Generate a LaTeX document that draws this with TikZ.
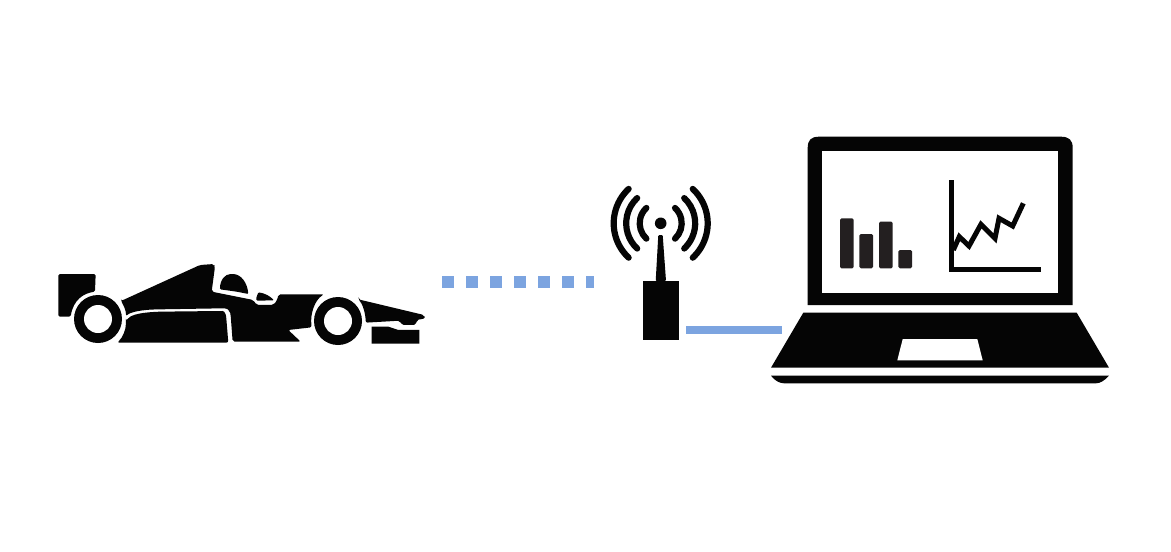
\documentclass[tikz,border=0pt]{standalone}
\definecolor{linkblue}{HTML}{7CA4E0}
\definecolor{barblack}{HTML}{231F20}
\definecolor{ink}{HTML}{050505}
\tikzset{
  solidshape/.style={fill=ink,draw=none},
  hole/.style={fill=white,draw=none},
  wave/.style={draw=ink,line width=6.2pt,line cap=round},
  link/.style={draw=linkblue,line width=8pt},
  wireless/.style={draw=linkblue,line width=12pt,dash pattern=on 12pt off 12pt},
  databar/.style={fill=barblack,draw=none,rounded corners=1.5pt},
}
\begin{document}
\begin{tikzpicture}[x=1pt,y=-1pt]
\useasboundingbox (0,0) rectangle (1171,552);
\fill[white] (0,0) rectangle (1171,552);
% links
\coordinate (carlink) at (442,282);
\coordinate (antlink) at (594,282);
\coordinate (boxlink) at (686,330);
\coordinate (laplink) at (782,330);
\draw[wireless] (carlink) -- (antlink);
\draw[link] (boxlink) -- (laplink);
% car
\begin{scope}[shift={(40,250)},x=0.3333pt,y=-0.3333pt]
\fill[solidshape,rounded corners=1.5pt] (55,72) -- (167,72) -- (165,125) .. controls (130,130) and (100,150) .. (92,200) -- (55,200) -- cycle;
\fill[solidshape,rounded corners=2pt] (243,153) -- (480,45) -- (522,42) -- (525,50) -- (515,125) -- (640,150) -- (650,165) -- (700,165) -- (712,150) -- (715,133) -- (852,133)
  .. controls (825,150) and (810,190) .. (815,232) -- (745,240) -- (782,275) -- (578,275) -- (572,195) .. controls (569,180) and (562,175) .. (545,175) -- (360,178) .. controls (300,179) and (270,187) .. (258,199) .. controls (258,180) and (250,165) .. (243,153) -- cycle;
\fill[solidshape,rounded corners=2pt] (258,213) .. controls (270,197) and (290,188) .. (360,185) -- (542,183) .. controls (554,183) and (558,195) .. (559,205) -- (565,278) -- (232,278) .. controls (248,262) and (258,240) .. (258,213) -- cycle;
\fill[solidshape,rounded corners=1pt] (540,118) .. controls (540,90) and (555,72) .. (575,72) .. controls (605,72) and (622,100) .. (625,132) -- (590,125) -- cycle;
\fill[solidshape,rounded corners=1pt] (648,146) -- (655,127) .. controls (675,130) and (690,138) .. (702,151) -- (650,152) -- cycle;
\fill[solidshape,rounded corners=2pt] (955,148) -- (1152,195) -- (1156,205) -- (1130,210) -- (1128,225) -- (1085,225) -- (1080,212) -- (977,218) .. controls (977,195) and (970,165) .. (955,148) -- cycle;
\fill[solidshape] (995,230) -- (1045,230) -- (1075,240) -- (1138,240) -- (1138,281) -- (995,281) -- cycle;
\end{scope}
\fill[solidshape] (98,319) circle (24);
\fill[hole] (98,319) circle (14);
\fill[solidshape] (338,321) circle (24);
\fill[hole] (338,321) circle (14);
% antenna
\node[solidshape,minimum width=35.4pt,minimum height=59.3pt,inner sep=0pt,outer sep=0pt] (antennabox) at (661,310.3) {};
\fill[solidshape,rounded corners=1pt] (655.7,281) -- (658.3,235) -- (662.7,235) -- (666,281) -- cycle;
\fill[solidshape] (660.7,223.3) circle (5.8);
\foreach \r in {21,34.5,47}{
  \draw[wave] (660.7,223.3) ++(133:\r) arc[start angle=133,end angle=227,radius=\r];
  \draw[wave] (660.7,223.3) ++(47:\r) arc[start angle=47,end angle=-47,radius=\r];
}
% laptop
\fill[solidshape] (807.7,305) -- (807.7,148) .. controls (807.7,140) and (811,136.7) .. (819,136.7) -- (1061,136.7) .. controls (1069,136.7) and (1072.7,140) .. (1072.7,148) -- (1072.7,305) -- cycle;
\fill[hole] (821.7,151) rectangle (1058.3,293.3);
\fill[databar] (840,218.3) rectangle (853.7,268.3);
\fill[databar] (859.3,234) rectangle (873,268.3);
\fill[databar] (879,221.7) rectangle (892.7,268.3);
\fill[databar] (898.3,250) rectangle (912,268.3);
\draw[draw=ink,line width=4.5pt] (951.3,180) -- (951.3,269.3) -- (1041,269.3);
\draw[draw=ink,line width=5pt,line join=miter] (953.3,250) -- (959.3,236.7) -- (969,246) -- (981,224.3) -- (995,238.3) -- (999,218.3) -- (1012.7,226) -- (1023.3,203.3);
\fill[solidshape] (803.3,312.7) -- (1076.7,312.7) -- (1109,367.7) -- (771,367.7) -- cycle;
\fill[hole] (902.7,339) -- (977.3,339) -- (982.7,360.3) -- (897.3,360.3) -- cycle;
\fill[solidshape] (771,375.7) -- (1109,375.7) .. controls (1104,381) and (1100,383.3) .. (1096,383.3) -- (784,383.3) .. controls (780,383.3) and (775,381) .. (771,375.7) -- cycle;
\end{tikzpicture}
\end{document}
